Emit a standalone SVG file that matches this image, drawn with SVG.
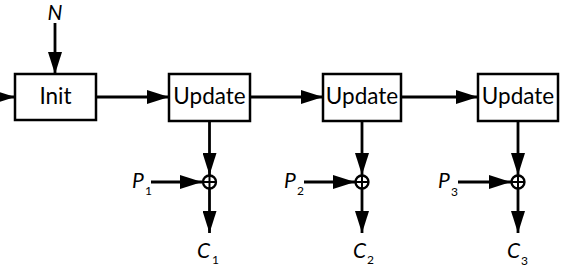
<svg xmlns="http://www.w3.org/2000/svg" width="573" height="270" viewBox="0 0 573 270">
<style>
.box{fill:#fff;stroke:#000;stroke-width:2.5}
.ln{fill:none;stroke:#000;stroke-width:2.8;marker-end:url(#ah)}
.lnp{fill:none;stroke:#000;stroke-width:2}
.lbl{font-family:Lato,"Open Sans",sans-serif;font-size:22.5px;fill:#000}
.it{font-family:Lato,"Open Sans",sans-serif;font-size:21px;font-style:italic;fill:#000}
.sub{font-family:Lato,"Open Sans",sans-serif;font-size:12px;fill:#000}
.xor{fill:#fff;stroke:#000;stroke-width:2.3}
</style>
<defs>
<marker id="ah" markerUnits="userSpaceOnUse" markerWidth="22" markerHeight="14" refX="22" refY="7" orient="auto">
<path d="M0,0 L22,7 L0,14 z" fill="#000"/>
</marker>
</defs>
<g id="connectors">
<line class="ln" x1="-30" y1="97" x2="15" y2="97"/>
<line class="ln" x1="55" y1="23" x2="55" y2="74"/>
<line class="ln" x1="96" y1="97" x2="169" y2="97"/>
<line class="ln" x1="250" y1="97" x2="323" y2="97"/>
<line class="ln" x1="401" y1="97" x2="478" y2="97"/>
<line class="ln" x1="209.5" y1="121" x2="209.5" y2="175"/>
<line class="ln" x1="362" y1="121" x2="362" y2="175"/>
<line class="ln" x1="518" y1="121" x2="518" y2="175"/>
<line class="ln" x1="151" y1="182" x2="202" y2="182"/>
<line class="ln" x1="304" y1="182" x2="355" y2="182"/>
<line class="ln" x1="458" y1="182" x2="511" y2="182"/>
<line class="ln" x1="209.5" y1="189" x2="209.5" y2="233"/>
<line class="ln" x1="362" y1="189" x2="362" y2="233"/>
<line class="ln" x1="518" y1="189" x2="518" y2="233"/>
</g>
<g id="init"><rect class="box" x="15" y="74" width="81" height="46"/><text class="lbl" x="55.5" y="104" text-anchor="middle">Init</text></g>
<g id="update1"><rect class="box" x="169" y="74" width="81" height="47"/><text class="lbl" x="209.5" y="104" text-anchor="middle">Update</text></g>
<g id="update2"><rect class="box" x="323" y="74" width="78" height="47"/><text class="lbl" x="362" y="104" text-anchor="middle">Update</text></g>
<g id="update3"><rect class="box" x="478" y="74" width="80" height="47"/><text class="lbl" x="518" y="104" text-anchor="middle">Update</text></g>
<g id="xor1"><circle class="xor" cx="209.5" cy="182" r="6.5"/><path class="lnp" d="M203,182H216M209.5,175.5V188.5"/></g>
<g id="xor2"><circle class="xor" cx="362" cy="182" r="6.5"/><path class="lnp" d="M355.5,182H368.5M362,175.5V188.5"/></g>
<g id="xor3"><circle class="xor" cx="518" cy="182" r="6.5"/><path class="lnp" d="M511.5,182H524.5M518,175.5V188.5"/></g>
<g id="N"><text class="it" x="55" y="20" text-anchor="middle">N</text></g>
<g id="P1"><text class="it" x="132" y="188">P</text><text class="sub" x="145" y="195">1</text></g>
<g id="P2"><text class="it" x="284" y="188">P</text><text class="sub" x="297" y="195">2</text></g>
<g id="P3"><text class="it" x="438" y="188">P</text><text class="sub" x="451" y="196">3</text></g>
<g id="C1"><text class="it" x="197" y="258">C</text><text class="sub" x="212" y="264">1</text></g>
<g id="C2"><text class="it" x="353" y="258">C</text><text class="sub" x="367" y="264">2</text></g>
<g id="C3"><text class="it" x="507" y="258">C</text><text class="sub" x="521" y="265">3</text></g>
</svg>
